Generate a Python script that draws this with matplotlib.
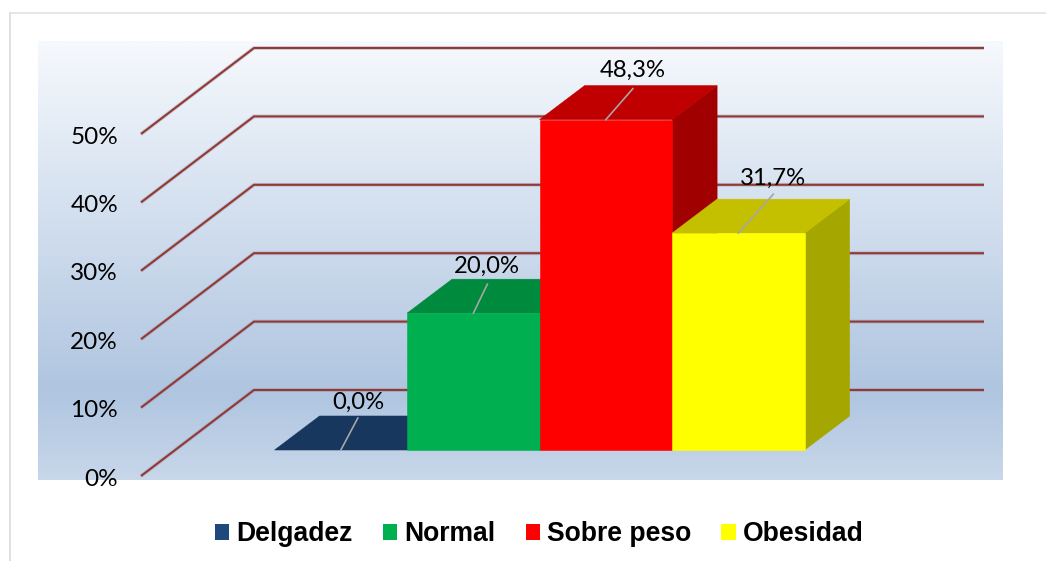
import numpy as np
import matplotlib
matplotlib.use("Agg")
import matplotlib.pyplot as plt
from matplotlib.colors import LinearSegmentedColormap
from matplotlib.lines import Line2D
from matplotlib.patches import Patch, Polygon

# data
categorias = ["Delgadez", "Normal", "Sobre peso", "Obesidad"]
valores = [0.0, 20.0, 48.3, 31.7]
etiquetas = ["0,0%", "20,0%", "48,3%", "31,7%"]
ticks = [0, 10, 20, 30, 40, 50]

# colours: front, top, side
col_front = ["#1F497D", "#00B050", "#FF0000", "#FFFF00"]
col_top = ["#17375E", "#008A3E", "#C00000", "#C4C000"]
col_side = ["#122C4C", "#006E32", "#A00000", "#A6A600"]
col_grid = "#953735"
col_lead = "#A6A6A6"

W, H = 1046, 561
px_x = 132.5    # pixels per bar
px_y = 6.84     # pixels per percent
x0, y0 = 274.6, 450  # pixel of bar origin
depth_x = 45 / px_x
depth_y = 34 / px_y

fig = plt.figure(figsize=(W / 100, H / 100), dpi=100)
ax = fig.add_axes([0, 0, 1, 1])
ax.axis("off")


def dx(p):
    return (p - x0) / px_x


def dy(p):
    return (y0 - p) / px_y


# gradient background
stops = [(0.0, "#F6F9FD"), (0.80, "#AFC5E0"), (1.0, "#C8D7EA")]
cmap = LinearSegmentedColormap.from_list("fondo", stops)
grad = np.linspace(0, 1, 256).reshape(-1, 1)
ax.imshow(grad, cmap=cmap, aspect="auto", origin="upper", vmin=0, vmax=1,
          extent=[dx(38), dx(1003), dy(480), dy(41)], zorder=0)

ax.set_xlim(dx(0), dx(W))
ax.set_ylim(dy(H), dy(0))

# outer frame of the chart
fig.add_artist(Line2D([10 / W, 10 / W], [0, 1 - 13 / H], color="#E0E0E0", lw=1.4))
fig.add_artist(Line2D([10 / W, 1], [1 - 13 / H, 1 - 13 / H], color="#E0E0E0", lw=1.1))

# grid: floor offset against the bars plane
off_front = dy(476)
off_back = dy(390)
for t in ticks:
    xs = [dx(141), dx(254), dx(984)]
    ys = [t + off_front, t + off_back, t + off_back]
    ax.plot(xs, ys, color="#8A8F9C", lw=2.8, alpha=0.35, zorder=1,
            solid_joinstyle="miter", solid_capstyle="butt")
    ax.plot(xs, ys, color=col_grid, lw=1.5, zorder=2,
            solid_joinstyle="miter", solid_capstyle="butt")
    ax.text(dx(118), t + off_front - 3 / px_y, f"{t}%", ha="right", va="center",
            fontsize=17.5, family="Lato", color="#000000")

# bars, left to right so that each one covers the side of the one before
for i, v in enumerate(valores):
    l, r = i, i + 1
    side = [(r, 0), (r + depth_x, depth_y), (r + depth_x, v + depth_y), (r, v)]
    top = [(l, v), (l + depth_x, v + depth_y), (r + depth_x, v + depth_y), (r, v)]
    front = [(l, 0), (r, 0), (r, v), (l, v)]
    z = 3 + i
    ax.add_patch(Polygon(side, closed=True, fc=col_side[i], ec=col_side[i], lw=0.4, zorder=z))
    ax.add_patch(Polygon(top, closed=True, fc=col_top[i], ec=col_top[i], lw=0.4, zorder=z))
    if v > 0:
        ax.add_patch(Polygon(front, closed=True, fc=col_front[i], ec=col_front[i], lw=0.4, zorder=z))

# data labels with leader lines (offset in pixels from the bar's centre)
lead_end = [(17, 32), (14, 29), (27, 31), (35, 39)]
text_off = [(17, 48), (14, 47), (27, 49), (35, 55)]
for i, v in enumerate(valores):
    cx = i + 0.5
    ax.plot([cx, cx + lead_end[i][0] / px_x], [v, v + lead_end[i][1] / px_y],
            color=col_lead, lw=1.2, zorder=10)
    ax.text(cx + text_off[i][0] / px_x, v + text_off[i][1] / px_y, etiquetas[i],
            ha="center", va="center", fontsize=17.2, family="Lato", color="#000000", zorder=11)

# legend
handles = [Patch(fc=c, ec="none", label=n) for c, n in zip(col_front, categorias)]
ax.legend(handles=handles, ncol=4, frameon=False, loc="center",
          bbox_to_anchor=(539 / W, 1 - 534 / H),
          prop={"family": "Liberation Sans", "weight": "bold", "size": 19.1},
          handlelength=0.53, handleheight=0.55, handletextpad=0.27,
          columnspacing=1.15, borderpad=0, borderaxespad=0)

fig.savefig("out.png", dpi=100)
